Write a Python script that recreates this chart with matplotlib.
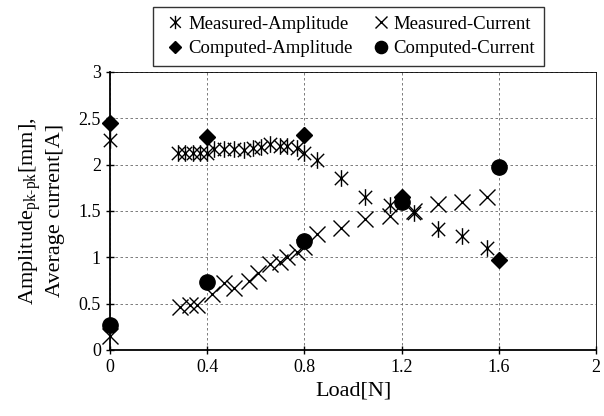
import matplotlib
matplotlib.use("Agg")
import matplotlib.pyplot as plt
from matplotlib.path import Path

# Measured amplitude (asterisks)
amp_meas_x = [0.0, 0.28, 0.31, 0.34, 0.37, 0.40, 0.43, 0.47, 0.51, 0.55, 0.59,
              0.62, 0.66, 0.70, 0.73, 0.77, 0.80, 0.85, 0.95, 1.05, 1.15, 1.25,
              1.35, 1.45, 1.55]
amp_meas_y = [2.27, 2.13, 2.13, 2.13, 2.12, 2.12, 2.17, 2.17, 2.17, 2.16, 2.18,
              2.19, 2.22, 2.20, 2.20, 2.18, 2.13, 2.05, 1.85, 1.65, 1.56, 1.48,
              1.31, 1.23, 1.10]

# Measured current (crosses)
cur_meas_x = [0.0, 0.29, 0.33, 0.36, 0.42, 0.47, 0.51, 0.57, 0.61, 0.66, 0.70,
              0.73, 0.77, 0.80, 0.85, 0.95, 1.05, 1.15, 1.25, 1.35, 1.45, 1.55]
cur_meas_y = [0.15, 0.46, 0.48, 0.48, 0.60, 0.72, 0.67, 0.74, 0.83, 0.93, 0.95,
              1.00, 1.06, 1.11, 1.25, 1.32, 1.41, 1.45, 1.50, 1.58, 1.60, 1.65]

# Computed values
comp_x = [0.0, 0.4, 0.8, 1.2, 1.6]
amp_comp_y = [2.45, 2.30, 2.32, 1.65, 0.97]
cur_comp_y = [0.27, 0.73, 1.18, 1.60, 1.97]

xticks = [0, 0.4, 0.8, 1.2, 1.6, 2]
xtick_labels = ["0", "0.4", "0.8", "1.2", "1.6", "2"]
yticks = [0, 0.5, 1, 1.5, 2, 2.5, 3]
ytick_labels = ["0", "0.5", "1", "1.5", "2", "2.5", "3"]

plt.rcParams['font.family'] = ['Liberation Serif', 'DejaVu Serif']
plt.rcParams['mathtext.fontset'] = 'custom'
plt.rcParams['mathtext.rm'] = 'Liberation Serif'
plt.rcParams['mathtext.it'] = 'Liberation Serif'

# asterisk drawn as an X with a vertical stroke, like the original
star = Path([(-1, -1), (1, 1), (-1, 1), (1, -1), (0, -1.25), (0, 1.25)],
            [Path.MOVETO, Path.LINETO, Path.MOVETO, Path.LINETO,
             Path.MOVETO, Path.LINETO])

fig = plt.figure(figsize=(6.04, 4.16), dpi=100)
ax = fig.add_axes([0.182, 0.159, 0.805, 0.668])

h_ma, = ax.plot(amp_meas_x, amp_meas_y, linestyle='none', marker=star,
                markersize=12, color='black', markeredgewidth=1.0,
                clip_on=False, label='Measured-Amplitude')
h_mc, = ax.plot(cur_meas_x, cur_meas_y, linestyle='none', marker='x',
                markersize=11, color='black', markeredgewidth=1.0,
                clip_on=False, label='Measured-Current')
h_ca, = ax.plot(comp_x, amp_comp_y, linestyle='none', marker='D',
                markersize=8, color='black', clip_on=False,
                label='Computed-Amplitude')
h_cc, = ax.plot(comp_x, cur_comp_y, linestyle='none', marker='o',
                markersize=11, color='black', clip_on=False,
                label='Computed-Current')

ax.set_xlim(0, 2)
ax.set_ylim(0, 3)
ax.set_xticks(xticks, xtick_labels)
ax.set_yticks(yticks, ytick_labels)
ax.tick_params(direction='inout', length=6, labelsize=13, width=1)
ax.grid(True, linestyle=(0, (3, 3)), color='#666666', linewidth=0.6)
ax.set_axisbelow(True)
for side in ['top', 'right']:
    ax.spines[side].set_linewidth(0.6)
for side in ['left', 'bottom']:
    ax.spines[side].set_linewidth(1.3)

ax.set_xlabel('Load[N]', fontsize=16, labelpad=4)
ax.set_ylabel('Amplitude$_{\\mathrm{pk\\text{-}pk}}$[mm],\nAverage current[A]',
              fontsize=16, labelpad=10)

# legend filled column-wise: measured on the first row, computed on the second
fig.legend([h_ma, h_ca, h_mc, h_cc],
           ['Measured-Amplitude', 'Computed-Amplitude',
            'Measured-Current', 'Computed-Current'],
           loc='upper center', bbox_to_anchor=(0.577, 1.005), ncol=2,
           frameon=True, fancybox=False, edgecolor='black', fontsize=13.5,
           handletextpad=0.0, columnspacing=0.8, handlelength=1.4,
           borderpad=0.45, labelspacing=0.4, markerscale=0.8)

fig.savefig('out.png', dpi=100)
